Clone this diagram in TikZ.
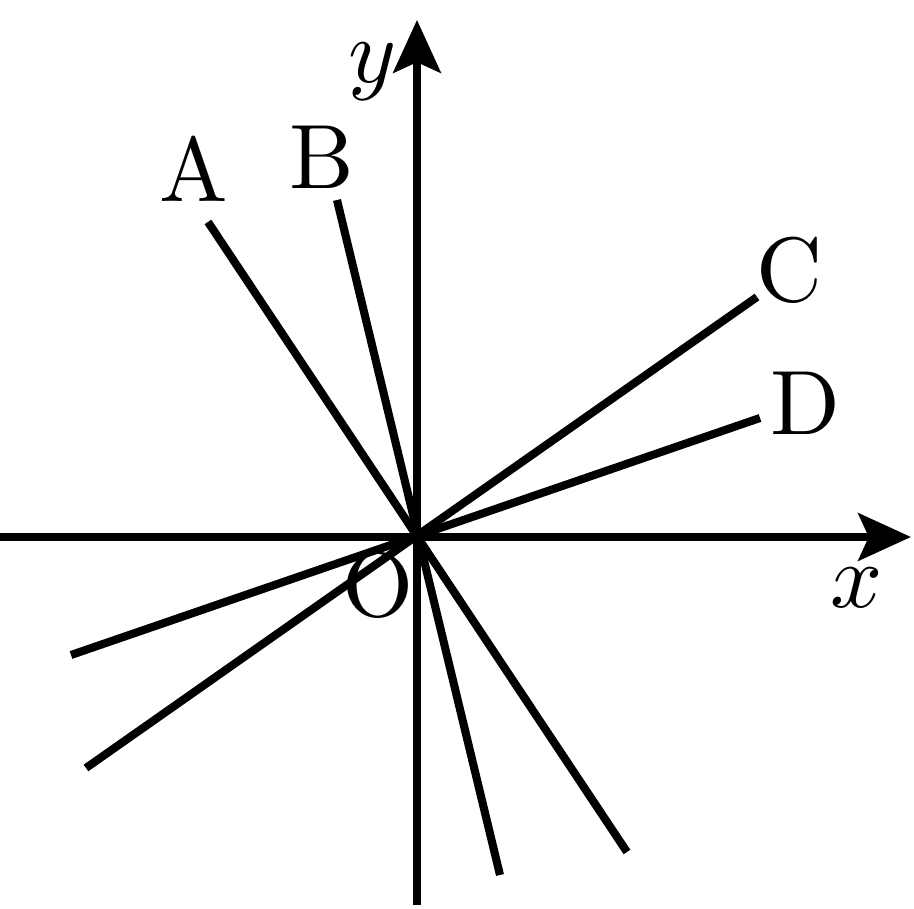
\documentclass[tikz,border=0pt]{standalone}
\usepackage{amsmath,amssymb}
\usetikzlibrary{arrows.meta}
\font\labfont=cmr10 at 26pt
\font\varfont=cmmi10 at 26pt

\begin{document}
\begin{tikzpicture}[line width=2.3pt,font=\labfont,
  axis/.style={-{Stealth[length=15pt,width=13.5pt,inset=3pt]}}]
  \useasboundingbox (-4.17,-3.72) rectangle (4.97,5.37);

  %axes
  \coordinate (O) at (0,0);
  \coordinate (xl) at (-4.25,0);
  \coordinate (xr) at (4.94,0);
  \coordinate (yb) at (0,-3.68);
  \coordinate (yt) at (0,5.17);
  \draw[axis] (xl) -- (xr);
  \draw[axis] (yb) -- (yt);
  \node (xlab) at (4.40,-0.51) {\varfont x};
  \node (ylab) at (-0.46,4.65) {\varfont y};
  \node (olab) at (-0.39,-0.48) {O};

  %lines through the origin
  \coordinate (A1) at (-2.09,3.15);
  \coordinate (A2) at (2.10,-3.15);
  \coordinate (B1) at (-0.80,3.37);
  \coordinate (B2) at (0.83,-3.38);
  \coordinate (C1) at (3.40,2.40);
  \coordinate (C2) at (-3.31,-2.31);
  \coordinate (D1) at (3.43,1.19);
  \coordinate (D2) at (-3.46,-1.18);
  \draw[-] (A1) -- (A2);
  \draw[-] (B1) -- (B2);
  \draw[-] (C1) -- (C2);
  \draw[-] (D1) -- (D2);

  %labels
  \node (A) at (-2.23,3.67) {A};
  \node (B) at (-0.95,3.80) {B};
  \node (C) at (3.73,2.67) {C};
  \node (D) at (3.88,1.34) {D};
\end{tikzpicture}
\end{document}
